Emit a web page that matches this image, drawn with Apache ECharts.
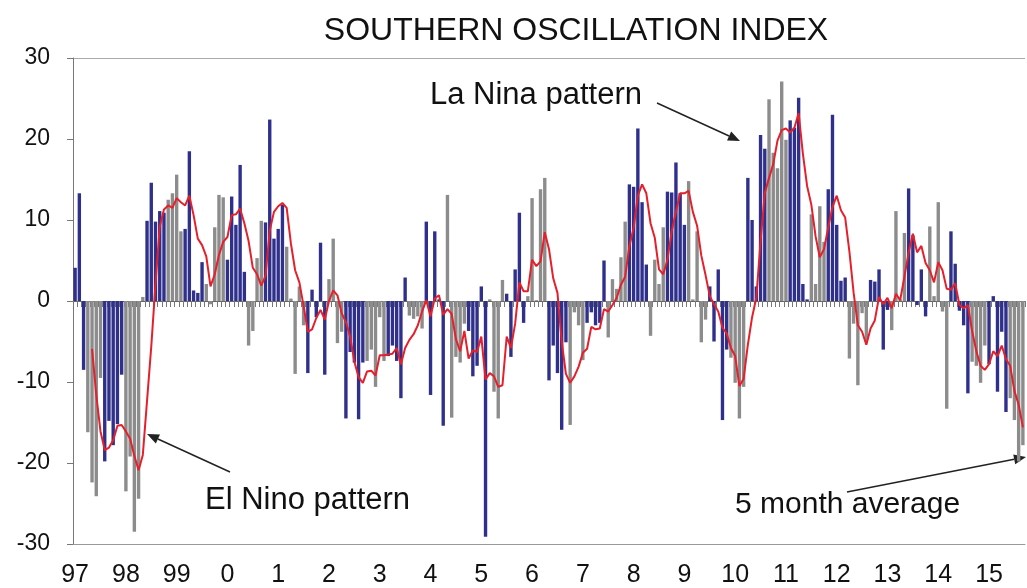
<!DOCTYPE html>
<html>
<head>
<meta charset="utf-8">
<script src="https://cdn.jsdelivr.net/npm/echarts@6/dist/echarts.min.js"></script>
<style>
html,body{margin:0;padding:0;background:#fff;}
#chart{width:1027px;height:588px;}
</style>
</head>
<body>
<div id="chart"></div>
<script>
// ---- DATA ----
const yearLabels = ['97','98','99','0','1','2','3','4','5','6','7','8','9','10','11','12','13','14','15'];
const monthNames = ['Jan','Feb','Mar','Apr','May','Jun','Jul','Aug','Sep','Oct','Nov','Dec'];
// Monthly Southern Oscillation Index, Jan 1997 - Sep 2015
const soi = [
  4.1, 13.3, -8.5, -16.2, -22.4, -24.1, -9.5, -19.8, -14.8, -17.8, -15.2, -9.1,
  -23.5, -19.2, -28.5, -24.4, 0.5, 9.9, 14.6, 9.8, 11.1, 10.9, 12.5, 13.3,
  15.6, 8.6, 8.9, 18.5, 1.3, 1.0, 4.8, 2.1, -0.4, 9.1, 13.1, 12.8,
  5.1, 12.9, 9.4, 16.8, 3.6, -5.5, -3.7, 5.3, 9.9, 9.7, 22.4, 7.7,
  8.9, 11.9, 6.7, 0.3, -9.0, 1.8, -3.0, -8.9, 1.4, -2.0, 7.2, -9.1,
  2.7, 7.7, -5.2, -3.8, -14.5, -6.3, -7.6, -14.6, -7.6, -7.4, -6.0, -10.6,
  -2.0, -7.4, -6.8, -5.5, -7.4, -12.0, 2.9, -1.8, -2.2, -1.9, -3.4, 9.8,
  -11.6, 8.6, 0.2, -15.4, 13.1, -14.4, -6.9, -7.6, -2.8, -3.7, -9.3, -8.0,
  1.8, -29.1, 0.2, -11.2, -14.5, 2.6, 0.9, -6.9, 3.9, 10.9, -2.7, 0.6,
  12.7, 0.1, 13.8, 15.2, -9.8, -5.5, -8.9, -15.9, -5.1, -15.3, -1.4, -3.0,
  -7.3, -2.7, -1.4, -3.0, -2.7, 5.0, -4.5, 2.7, 1.5, 5.4, 9.8, 14.4,
  14.1, 21.3, 12.2, 4.5, -4.3, 5.1, 2.1, 9.1, 13.5, 13.4, 17.1, 13.3,
  9.4, 14.8, 0.2, 8.6, -5.1, -2.3, 1.8, -5.0, 3.9, -14.7, -6.0, -7.0,
  -10.1, -14.5, -10.6, 15.2, 10.0, 1.8, 20.5, 18.8, 24.9, 18.3, 16.4, 27.1,
  19.9, 22.3, 21.4, 25.1, 2.1, 0.2, 10.7, 2.1, 11.7, 7.3, 13.8, 23.0,
  9.4, 2.5, 2.9, -7.1, -2.8, -10.4, -1.5, -5.0, 2.6, 2.4, 3.9, -6.0,
  -1.1, -3.6, 11.1, 0.2, 8.4, 13.9, 8.1, -0.5, 3.9, -1.9, 9.2, 0.6,
  12.2, -1.3, -13.3, 8.6, 4.6, -1.2, -3.0, -11.4, -7.5, -8.0, -10.1, -5.5,
  -7.8, 0.6, -11.2, -3.8, -13.7, -12.0, -14.7, -19.8, -17.8
];
// 5 month (trailing) average, as drawn by the red line
const soiAvg5 = [
  null, null, null, null,
  -5.9, -11.6, -16.1, -18.4, -18.1, -17.2, -15.4, -15.3,
  -16.1, -17.0, -19.1, -20.9, -19.0, -12.3, -5.6, 2.1, 9.2, 11.3, 11.8, 11.5,
  12.7, 12.2, 11.8, 13.0, 10.6, 7.7, 6.9, 5.5, 1.8, 3.3, 5.7, 7.3,
  7.9, 10.6, 10.7, 11.4, 9.6, 7.4, 4.1, 3.3, 1.9, 3.1, 8.7, 11.0,
  11.7, 12.1, 11.5, 7.1, 3.8, 2.3, -0.6, -3.8, -3.5, -2.1, -1.1, -2.3,
  0.0, 1.3, 0.7, -1.5, -2.6, -4.4, -7.5, -9.4, -10.1, -8.7, -8.6, -9.2,
  -6.7, -6.7, -6.6, -6.5, -5.8, -7.8, -5.8, -4.8, -4.1, -3.0, -1.3, 0.1,
  -1.9, 0.3, 0.7, -1.7, -1.0, -1.6, -4.7, -6.2, -3.7, -7.1, -6.1, -6.3,
  -4.4, -9.7, -8.9, -9.3, -10.6, -10.4, -4.4, -5.8, -2.8, 2.3, 1.2, 1.2,
  5.1, 4.3, 4.9, 8.5, 6.4, 2.8, 1.0, -5.0, -9.0, -10.1, -9.3, -8.1,
  -6.4, -5.9, -3.2, -3.5, -3.4, -1.0, -1.3, -0.5, 0.4, 2.0, 3.0, 6.8,
  9.0, 13.0, 14.4, 13.3, 9.6, 7.8, 3.9, 3.3, 5.1, 8.6, 11.0, 13.3,
  13.3, 13.6, 11.0, 9.3, 5.6, 3.2, 0.6, -0.4, -1.3, -3.3, -4.0, -5.8,
  -6.8, -10.5, -9.6, -5.4, -2.0, 0.4, 7.4, 13.3, 15.2, 16.9, 19.8, 21.1,
  21.3, 20.8, 21.4, 23.2, 18.2, 14.2, 11.9, 8.0, 5.4, 6.4, 9.1, 11.6,
  13.0, 11.2, 10.3, 6.1, 1.0, -3.0, -3.8, -5.4, -3.4, -2.4, 0.5, -0.4,
  0.4, -0.9, 0.9, 0.1, 3.0, 6.0, 8.3, 6.0, 6.8, 4.7, 3.8, 2.3,
  4.8, 3.8, 1.5, 1.4, 2.2, -0.5, -0.9, -0.5, -3.7, -6.2, -8.0, -8.5,
  -7.8, -6.2, -6.8, -5.5, -7.2, -8.0, -11.1, -12.8, -15.6
];
const yTicks = { min: -30, max: 30, interval: 10 };
const titleText = 'SOUTHERN OSCILLATION INDEX';
const notes = { laNina: 'La Nina pattern', elNino: 'El Nino pattern', avg: '5 month average' };

// ---- BUILD ----
const categories = [];
yearLabels.forEach(function (y) {
  monthNames.forEach(function (m) {
    if (categories.length < soi.length) categories.push(m + ' ' + y);
  });
});

const FONT = '"Liberation Sans", Arial, sans-serif';
const BLUE = '#2f308c';
const GREY = '#8c8c8c';
function barColor(i) {
  const p = (((i - 16.5) % 9.5) + 9.5) % 9.5;
  return p < 4.75 ? BLUE : GREY;
}

function arrow(x1, y1, x2, y2) {
  const ang = Math.atan2(y2 - y1, x2 - x1);
  const L = 12, W = 5;
  const bx = x2 - L * Math.cos(ang), by = y2 - L * Math.sin(ang);
  const px = -Math.sin(ang) * W, py = Math.cos(ang) * W;
  return [
    { type: 'line', silent: true, shape: { x1: x1, y1: y1, x2: bx, y2: by },
      style: { stroke: '#222', lineWidth: 1.5 } },
    { type: 'polygon', silent: true,
      shape: { points: [[x2, y2], [bx + px, by + py], [bx - px, by - py]] },
      style: { fill: '#222' } }
  ];
}
function label(text, x, y, size, align) {
  return { type: 'text', silent: true, x: x, y: y,
    style: { text: text, fontSize: size, fontFamily: FONT, fill: '#111',
      align: align || 'left', verticalAlign: 'middle',
      textAlign: align || 'left', textVerticalAlign: 'middle' } };
}

const chart = echarts.init(document.getElementById('chart'), null, { renderer: 'canvas' });
const clear = 'rgba(0,0,0,0)';
chart.setOption({
  animation: false,
  backgroundColor: '#fff',
  grid: { left: 73, right: 2, top: 58, bottom: 40, containLabel: false },
  xAxis: [
    {
      type: 'category', data: categories, position: 'bottom',
      axisLine: { onZero: false, lineStyle: { color: '#999', width: 1 } },
      axisTick: { show: false },
      axisLabel: {
        interval: function (idx) { return idx % 12 === 0; },
        formatter: function (v, idx) { return idx % 12 === 0 ? yearLabels[idx / 12] : ''; },
        fontSize: 25, fontFamily: FONT, color: '#111', margin: 19
      },
      splitLine: { show: false }
    },
    {
      type: 'category', data: categories, position: 'top',
      axisLine: { onZero: true, lineStyle: { color: '#666', width: 1 } },
      axisTick: { show: true, interval: 0, inside: true, length: 6, lineStyle: { color: '#777' } },
      axisLabel: { show: false },
      splitLine: { show: false }
    }
  ],
  yAxis: {
    type: 'value', min: yTicks.min, max: yTicks.max, interval: yTicks.interval,
    axisLine: { show: true, lineStyle: { color: '#777' } },
    axisTick: { show: true, length: 6, lineStyle: { color: '#777' } },
    axisLabel: { fontSize: 23, fontFamily: FONT, color: '#111', margin: 23 },
    splitLine: { show: true, lineStyle: { color: ['#aaa', clear, clear, clear, clear, clear, '#aaa'], width: 1 } }
  },
  series: [
    {
      type: 'bar', name: 'SOI', data: soi, xAxisIndex: 0,
      barWidth: '80%',
      itemStyle: { color: function (p) { return barColor(p.dataIndex); } },
      z: 2
    },
    {
      type: 'line', name: '5 month average', data: soiAvg5, xAxisIndex: 0,
      showSymbol: false, smooth: false, connectNulls: false,
      lineStyle: { color: '#e5202b', width: 2 },
      z: 4
    }
  ],
  graphic: [
    label(titleText, 576, 31, 32, 'center'),
    label(notes.laNina, 430, 95, 31),
    label(notes.elNino, 205, 500, 31),
    label(notes.avg, 735, 505, 30)
  ].concat(arrow(657, 103, 740, 141))
   .concat(arrow(230, 472, 147, 434))
   .concat(arrow(847, 492, 1026, 457))
});
</script>
</body>
</html>
